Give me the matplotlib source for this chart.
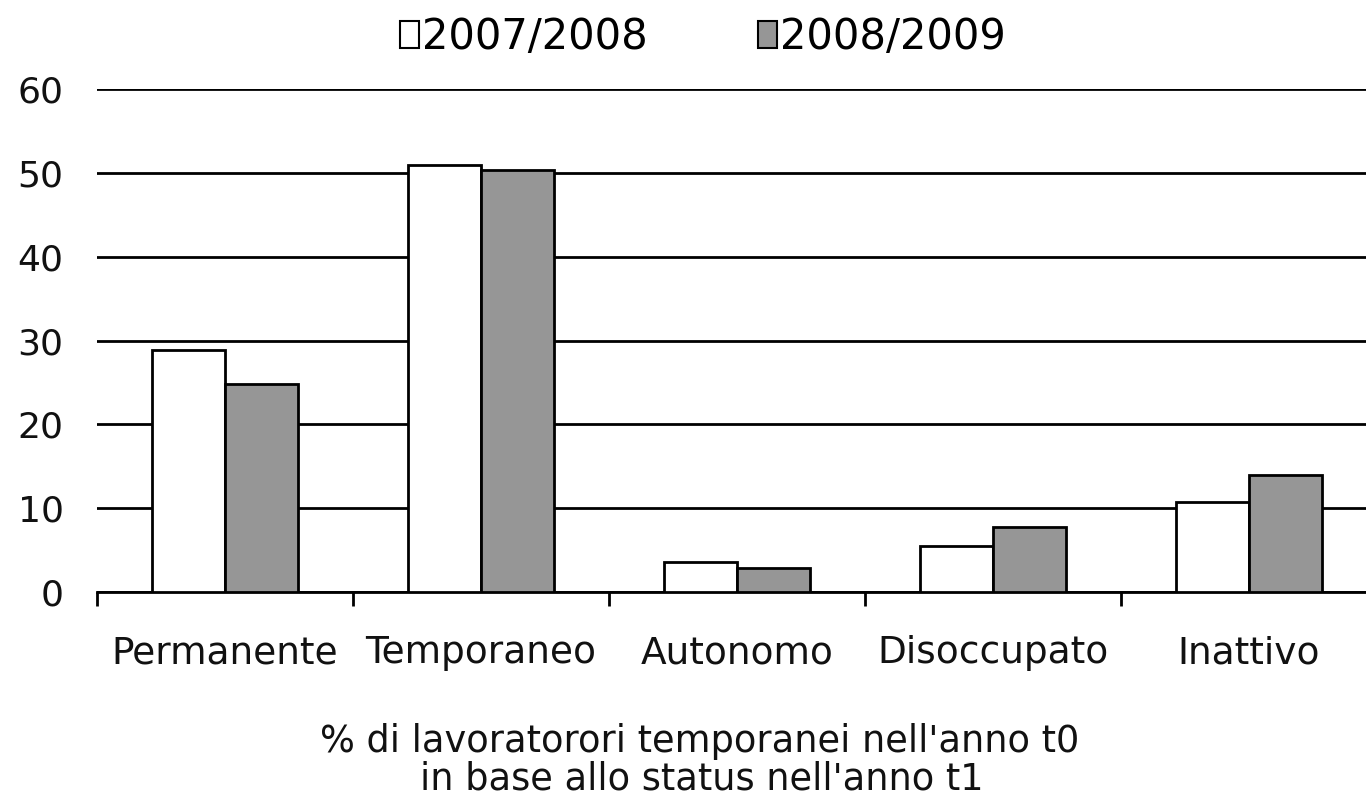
import matplotlib
matplotlib.use("Agg")
import matplotlib.pyplot as plt
import numpy as np
from matplotlib.patches import Patch

categories = ["Permanente", "Temporaneo", "Autonomo", "Disoccupato", "Inattivo"]
series_names = ["2007/2008", "2008/2009"]
v2007 = [28.9, 50.9, 3.6, 5.5, 10.7]
v2008 = [24.8, 50.3, 2.9, 7.7, 14.0]
yticks = [0, 10, 20, 30, 40, 50, 60]
xlabel_lines = ["% di lavoratorori temporanei nell'anno t0", "in base allo status nell'anno t1"]

plt.rcParams['font.family'] = ['DejaVu Sans']
fig = plt.figure(figsize=(13.66, 7.98), dpi=100)
ax = fig.add_axes([0.0710, 0.2581, 0.937, 0.6304])

x = np.arange(len(categories))
w = 0.285
ax.set_axisbelow(True)
ax.yaxis.grid(True, color='black', linewidth=2)
ax.bar(x - w/2, v2007, width=w, color='white', edgecolor='black', linewidth=2, zorder=3)
ax.bar(x + w/2, v2008, width=w, color='#969696', edgecolor='black', linewidth=2, zorder=3)

ax.set_xlim(-0.5, len(categories) - 0.5)
ax.set_ylim(0, 60)
ax.set_yticks(yticks)
ax.tick_params(axis='y', length=0, labelsize=26, pad=24, labelcolor='#111111')
ax.set_xticks(x)
ax.set_xticklabels(categories, fontsize=27)
ax.tick_params(axis='x', which='major', length=0, pad=31, labelcolor='#111111')
ax.set_xticks(np.arange(-0.5, len(categories)), minor=True)
ax.tick_params(axis='x', which='minor', length=10, width=2, direction='out')
for s in ['top', 'right', 'left']:
    ax.spines[s].set_visible(False)
ax.spines['bottom'].set_linewidth(2)

fig.text(700/1366, 1 - 741/798, xlabel_lines[0], ha='center', va='center', fontsize=26.5, color='#111111')
fig.text(702/1366, 1 - 779/798, xlabel_lines[1], ha='center', va='center', fontsize=26.5, color='#111111')

handles = [Patch(facecolor='white', edgecolor='black', linewidth=1.5),
           Patch(facecolor='#969696', edgecolor='black', linewidth=1.5)]
fig.legend(handles, series_names, loc='center', bbox_to_anchor=(703/1366, 1 - 37/798),
           ncol=2, frameon=False, fontsize=30, handlelength=0.45, handleheight=0.6,
           handletextpad=0.08, columnspacing=2.65, borderpad=0)

fig.savefig("out.png", dpi=100)
